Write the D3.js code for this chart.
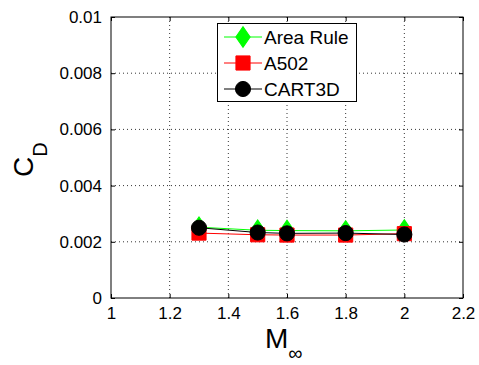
<!DOCTYPE html>
<html>
<head>
<meta charset="utf-8">
<script src="https://cdn.jsdelivr.net/npm/d3@7"></script>
<style>
  body { margin: 0; background: #fff; }
  text { font-family: "Liberation Sans", Arial, sans-serif; }
</style>
</head>
<body>
<div id="chart"></div>
<script>
// Mach numbers and drag coefficients
var mach = [1.3, 1.5, 1.6, 1.8, 2.0];
var areaRule = [0.00252, 0.00241, 0.00240, 0.00239, 0.00242];
var a502 = [0.00231, 0.00225, 0.00224, 0.00224, 0.00229];
var cart3d = [0.00250, 0.00233, 0.00230, 0.00231, 0.00226];

var xTicks = [1, 1.2, 1.4, 1.6, 1.8, 2, 2.2];
var yTicks = [0, 0.002, 0.004, 0.006, 0.008, 0.01];
var xTickLabels = ["1", "1.2", "1.4", "1.6", "1.8", "2", "2.2"];
var yTickLabels = ["0", "0.002", "0.004", "0.006", "0.008", "0.01"];

var W = 479, H = 365;
var pLeft = 111, pRight = 463, pTop = 17, pBottom = 298;

var svg = d3.select("#chart").append("svg")
    .attr("width", W)
    .attr("height", H);

var x = d3.scaleLinear().domain([1, 2.2]).range([pLeft, pRight]);
var y = d3.scaleLinear().domain([0, 0.01]).range([pBottom, pTop]);

// grid (dotted)
var grid = svg.append("g");
xTicks.slice(1, -1).forEach(function(t) {
    grid.append("line")
        .attr("x1", x(t)).attr("x2", x(t))
        .attr("y1", pTop).attr("y2", pBottom)
        .attr("stroke", "#000").attr("stroke-width", 0.8)
        .attr("stroke-dasharray", "1,3");
});
yTicks.slice(1, -1).forEach(function(t) {
    grid.append("line")
        .attr("x1", pLeft).attr("x2", pRight)
        .attr("y1", y(t)).attr("y2", y(t))
        .attr("stroke", "#000").attr("stroke-width", 0.8)
        .attr("stroke-dasharray", "1,3");
});

// axes with inward ticks
var xAxis = d3.axisBottom(x).tickValues(xTicks)
    .tickFormat(function(d, i) { return xTickLabels[i]; })
    .tickSizeInner(-4).tickSizeOuter(0).tickPadding(9);
var yAxis = d3.axisLeft(y).tickValues(yTicks)
    .tickFormat(function(d, i) { return yTickLabels[i]; })
    .tickSizeInner(-4).tickSizeOuter(0).tickPadding(9);

var gx = svg.append("g").attr("transform", "translate(0," + pBottom + ")").call(xAxis);
var gy = svg.append("g").attr("transform", "translate(" + pLeft + ",0)").call(yAxis);
var gx2 = svg.append("g").attr("transform", "translate(0," + pTop + ")")
    .call(d3.axisTop(x).tickValues(xTicks).tickFormat("").tickSizeInner(-4).tickSizeOuter(0));
var gy2 = svg.append("g").attr("transform", "translate(" + pRight + ",0)")
    .call(d3.axisRight(y).tickValues(yTicks).tickFormat("").tickSizeInner(-4).tickSizeOuter(0));

[gx, gy, gx2, gy2].forEach(function(g) {
    g.select(".domain").remove();
    g.selectAll("line").attr("stroke", "#000");
    g.selectAll("text").attr("fill", "#000").style("font-size", "17px");
});

svg.append("rect")
    .attr("x", pLeft).attr("y", pTop)
    .attr("width", pRight - pLeft).attr("height", pBottom - pTop)
    .attr("fill", "none").attr("stroke", "#000").attr("stroke-width", 1);

// series
var series = [
    { name: "Area Rule", values: areaRule, color: "#00ff00", shape: d3.symbolDiamond, size: 120 },
    { name: "A502", values: a502, color: "#ff0000", shape: d3.symbolSquare, size: 200 },
    { name: "CART3D", values: cart3d, color: "#000000", shape: d3.symbolCircle, size: 180 }
];

var line = d3.line()
    .x(function(d) { return x(d[0]); })
    .y(function(d) { return y(d[1]); });

series.forEach(function(s) {
    var pts = mach.map(function(m, i) { return [m, s.values[i]]; });
    svg.append("path")
        .datum(pts)
        .attr("d", line)
        .attr("fill", "none")
        .attr("stroke", s.color)
        .attr("stroke-width", 1);
    svg.append("g").selectAll("path")
        .data(pts)
        .enter().append("path")
        .attr("transform", function(d) { return "translate(" + x(d[0]) + "," + y(d[1]) + ")" + (s.shape === d3.symbolDiamond ? " scale(1.2,1)" : ""); })
        .attr("d", d3.symbol().type(s.shape).size(s.size))
        .attr("fill", s.color)
        .attr("stroke", s.color);
});

// legend
var lg = svg.append("g");
lg.append("rect")
    .attr("x", 217.5).attr("y", 23.5)
    .attr("width", 139).attr("height", 78)
    .attr("fill", "#fff").attr("stroke", "#000").attr("stroke-width", 1);
var ly = [37, 63, 89];
series.forEach(function(s, i) {
    lg.append("line")
        .attr("x1", 224).attr("x2", 262)
        .attr("y1", ly[i]).attr("y2", ly[i])
        .attr("stroke", s.color).attr("stroke-width", 1);
    lg.append("path")
        .attr("transform", "translate(243," + ly[i] + ")" + (s.shape === d3.symbolDiamond ? " scale(1.2,1)" : ""))
        .attr("d", d3.symbol().type(s.shape).size(s.size))
        .attr("fill", s.color)
        .attr("stroke", s.color);
    lg.append("text")
        .attr("x", 264).attr("y", ly[i] + 7)
        .style("font-size", "19px")
        .text(s.name);
});

// axis labels
var xl = svg.append("text")
    .attr("x", 265).attr("y", 348)
    .style("font-size", "28px");
xl.append("tspan").text("M");
xl.append("tspan").attr("dy", 12).style("font-size", "20px").text("\u221e");

var yl = svg.append("text")
    .attr("transform", "translate(33,177) rotate(-90)")
    .style("font-size", "28px");
yl.append("tspan").text("C");
yl.append("tspan").attr("dy", 14).style("font-size", "20px").text("D");
</script>
</body>
</html>
